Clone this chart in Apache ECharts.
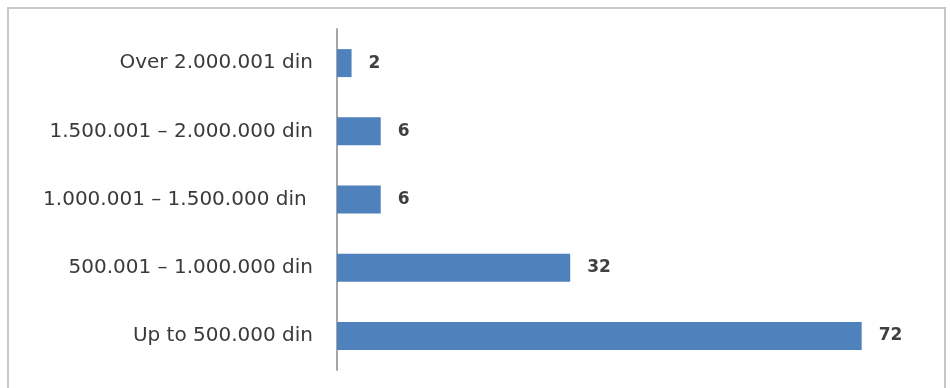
<!DOCTYPE html>
<html>
<head>
<meta charset="utf-8">
<script src="https://cdn.jsdelivr.net/npm/echarts@6/dist/echarts.min.js"></script>
<style>
html,body{margin:0;padding:0;background:#fff;}
#frame{position:absolute;left:7px;top:7px;width:939px;height:400px;border:2px solid #c8c8c8;box-sizing:border-box;}
#chart{position:absolute;left:0;top:0;width:950px;height:388px;}
</style>
</head>
<body>
<div id="frame"></div>
<div id="chart"></div>
<script>
const categories = ["Up to 500.000 din", "500.001 \u2013 1.000.000 din", "1.000.001 \u2013 1.500.000 din ", "1.500.001 \u2013 2.000.000 din", "Over 2.000.001 din"];
const values = [72, 32, 6, 6, 2];

const chart = echarts.init(document.getElementById('chart'));
chart.setOption({
  animation: false,
  grid: {left: 337, top: 29, width: 583, height: 341, containLabel: false},
  xAxis: {type: 'value', min: 0, max: 80, show: false},
  yAxis: {
    type: 'category', data: categories,
    axisLine: {show: true, lineStyle: {color: '#a6a6a6', width: 2}},
    axisTick: {show: false},
    axisLabel: {margin: 24, color: '#3a3a3a', fontSize: 20, fontFamily: 'DejaVu Sans'}
  },
  series: [{
    type: 'bar', data: values, barCategoryGap: '59%',
    itemStyle: {color: '#4f81bd'},
    label: {show: true, position: 'right', distance: 17, color: '#404040', fontSize: 17, fontWeight: 'bold', fontFamily: 'DejaVu Sans'}
  }]
});
</script>
</body>
</html>
